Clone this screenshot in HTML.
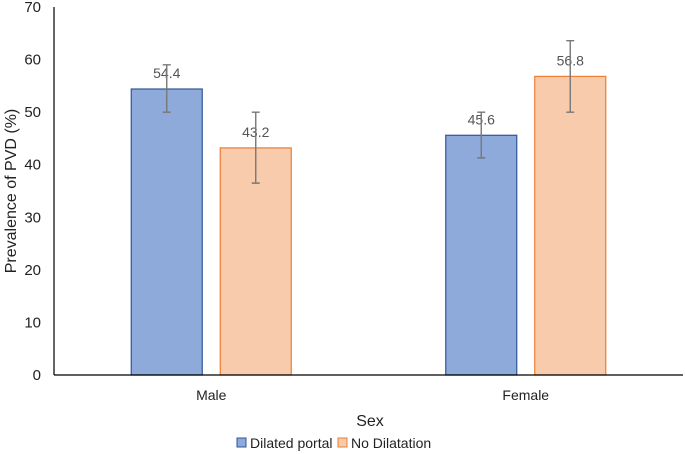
<!DOCTYPE html>
<html><head><meta charset="utf-8"><style>
body{margin:0;background:#fff;}
svg{display:block;font-family:"Liberation Sans",Arial,sans-serif;}
</style></head><body>
<svg id="chart" width="685" height="454">
<g id="yaxis"></g>
<g id="bars"></g>
<line x1="54" y1="375" x2="683" y2="375" stroke="#000" stroke-width="1.2"/>
<line x1="54" y1="7" x2="54" y2="375" stroke="#000" stroke-width="1.2"/>
<g id="xlabels"></g>
<text x="370" y="426" font-size="16" text-anchor="middle" fill="#222">Sex</text>
<text transform="translate(16,191) rotate(-90)" font-size="16" text-anchor="middle" fill="#222">Prevalence of PVD (%)</text>
<g>
<g><rect x="237" y="438" width="9" height="9" fill="#8eaadb" stroke="#2f5597"/><text x="250" y="448" font-size="14" fill="#222">Dilated portal</text></g>
<g><rect x="338" y="438" width="9" height="9" fill="#f8cbad" stroke="#ed7d31"/><text x="351" y="448" font-size="14" fill="#222">No Dilatation</text></g>
</g>
</svg>
<script>
const categories=["Male","Female"];
const dilated=[54.4,45.6];
const noDil=[43.2,56.8];
const dilatedLo=[50,41.3];
const dilatedHi=[59,50];
const noDilLo=[36.5,50];
const noDilHi=[50,63.6];
const yTicks=[0,10,20,30,40,50,60,70];
const NS="http://www.w3.org/2000/svg";
const x0=54,x1=683,y0=375,yTop=7,yMax=70;
const y=v=>y0-(v/yMax)*(y0-yTop);
const band=(x1-x0)/categories.length;
const cx=i=>x0+band*(i+0.5);
function mk(tag,attrs,parent,txt){const e=document.createElementNS(NS,tag);for(const k in attrs)e.setAttribute(k,attrs[k]);if(txt!=null)e.textContent=txt;parent.appendChild(e);return e;}
const ya=document.getElementById('yaxis');
yTicks.forEach(t=>{const e=mk('text',{x:41,y:y(t)+5,'font-size':15,'text-anchor':'end',fill:'#222'},ya,String(t));

});
const bg=document.getElementById('bars');
const series=[{v:dilated,lo:dilatedLo,hi:dilatedHi,fill:'#8eaadb',stroke:'#2f5597',off:-80,n:'dilated'},{v:noDil,lo:noDilLo,hi:noDilHi,fill:'#f8cbad',stroke:'#ed7d31',off:9,n:'no-dilatation'}];
const bw=71;
series.forEach(s=>{categories.forEach((c,i)=>{
const bx=cx(i)+s.off;
const r=mk('rect',{x:bx,y:y(s.v[i]),width:bw,height:y0-y(s.v[i]),fill:s.fill,stroke:s.stroke,'stroke-width':1.2},bg);


const mx=bx+bw/2;
const lbl=mk('text',{x:mx,y:y(s.v[i])-11,'font-size':14,'text-anchor':'middle',fill:'#555'},bg,s.v[i].toFixed(1));


const eb=mk('path',{d:`M${mx},${y(s.lo[i])}V${y(s.hi[i])}M${mx-4},${y(s.lo[i])}H${mx+4}M${mx-4},${y(s.hi[i])}H${mx+4}`,stroke:'#777','stroke-width':1.4,fill:'none'},bg);


});});
const xl=document.getElementById('xlabels');
categories.forEach((c,i)=>{const e=mk('text',{x:cx(i),y:400,'font-size':14,'text-anchor':'middle',fill:'#222'},xl,c);

});
</script>
</body></html>
